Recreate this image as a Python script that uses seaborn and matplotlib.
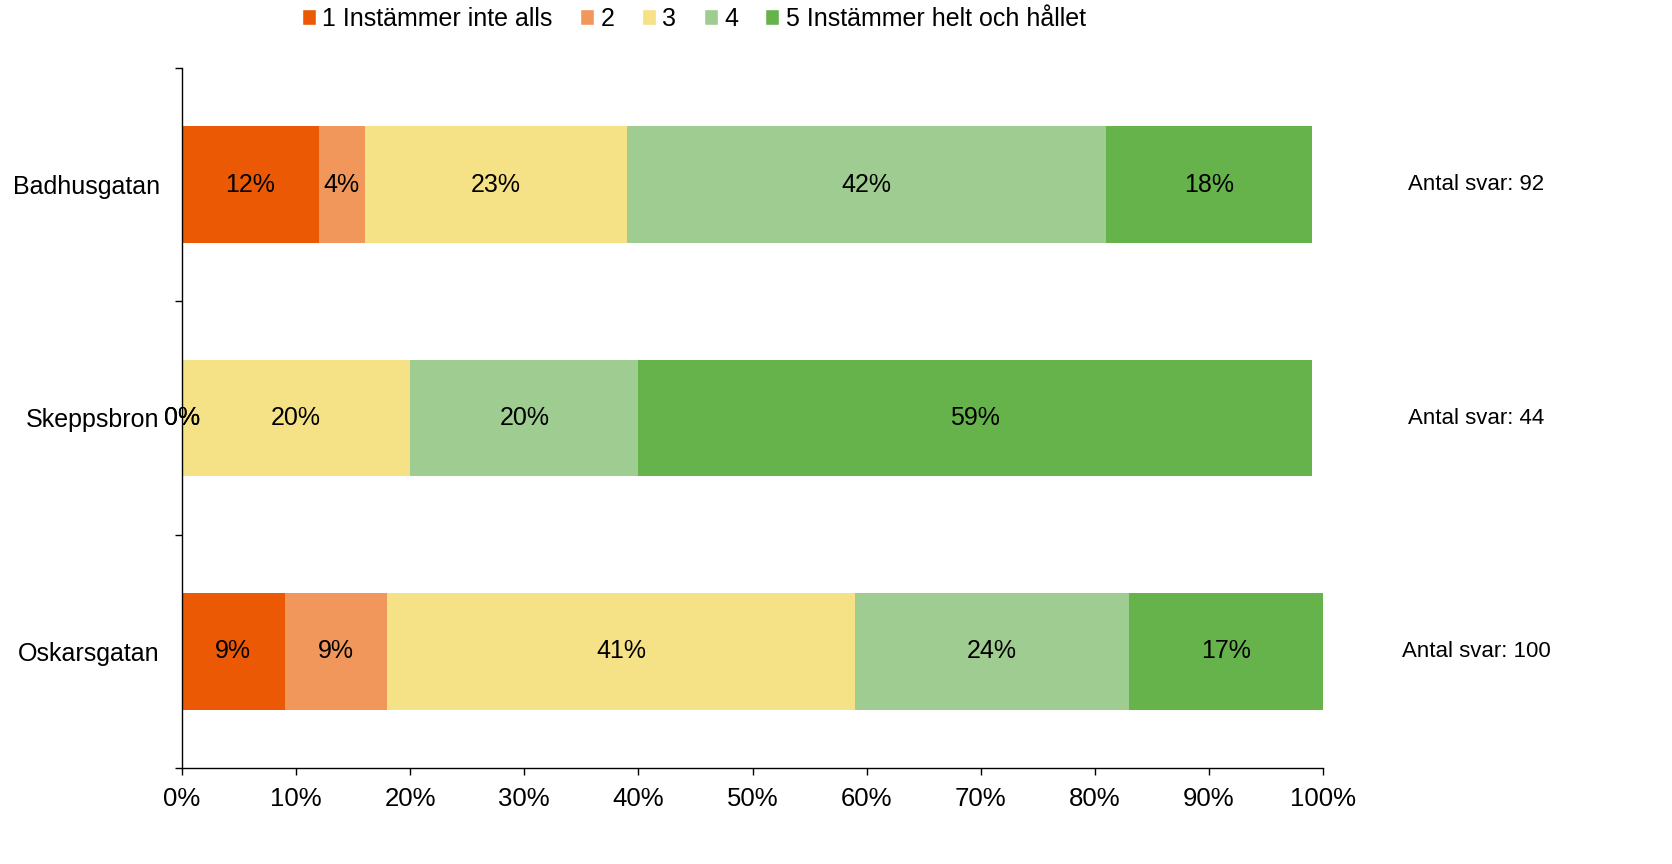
import matplotlib.pyplot as plt
import seaborn as sns
import pandas as pd
import numpy as np
from matplotlib.patches import Patch

# --- Données ---
stations = ["Badhusgatan", "Skeppsbron", "Oskarsgatan"]
answers = ["1 Instämmer inte alls", "2", "3", "4", "5 Instämmer helt och hållet"]
svar_1 = [12, 0, 9]
svar_2 = [4, 0, 9]
svar_3 = [23, 20, 41]
svar_4 = [42, 20, 24]
svar_5 = [18, 59, 17]
antal_svar = [92, 44, 100]
colors = ["#EB5905", "#F2975C", "#F5E186", "#9FCC90", "#66B34C"]

df = pd.DataFrame({"station": stations, answers[0]: svar_1, answers[1]: svar_2,
                   answers[2]: svar_3, answers[3]: svar_4, answers[4]: svar_5})
cum = df[answers].cumsum(axis=1)

sns.set_theme(style="white")
plt.rcParams["font.family"] = ["Liberation Sans", "DejaVu Sans"]
plt.rcParams["text.color"] = "black"
plt.rcParams["xtick.labelcolor"] = "black"
plt.rcParams["ytick.labelcolor"] = "black"

fig = plt.figure(figsize=(16.72, 8.64), dpi=100)
ax = fig.add_axes([182 / 1672, 1 - 768 / 864, (1323 - 182) / 1672, 700 / 864])

# stacked bars: draw cumulative totals from largest to smallest
for ans, c in reversed(list(zip(answers, colors))):
    sns.barplot(x=cum[ans], y=df["station"], color=c, orient="h", width=0.5,
                saturation=1, ax=ax, linewidth=0)

for i in range(len(stations)):
    for ans in answers:
        val = df.loc[i, ans]
        x = cum.loc[i, ans] - val / 2
        ax.text(x, i, f"{val}%", ha="center", va="center", fontsize=18, color="black")
    ax.text(113.4, i, f"Antal svar: {antal_svar[i]}", ha="center", va="center",
            fontsize=16, color="black", clip_on=False)

ax.set_xlim(0, 100)
ax.set_ylim(2.5, -0.5)
ax.set_xticks(np.arange(0, 101, 10))
ax.set_xticklabels([f"{v}%" for v in range(0, 101, 10)])
ax.set_yticks([-0.5, 0.5, 1.5, 2.5])
ax.set_yticklabels([])
ax.set_yticks(range(len(stations)), minor=True)
ax.set_yticklabels(stations, minor=True)
ax.set_xlabel("")
ax.set_ylabel("")

for s in ["top", "right"]:
    ax.spines[s].set_visible(False)
for s in ["left", "bottom"]:
    ax.spines[s].set_color("black")
    ax.spines[s].set_linewidth(1)
ax.tick_params(axis="x", which="major", direction="out", length=5, width=1,
               color="black", labelsize=18.5, labelcolor="black", pad=9, bottom=True)
ax.tick_params(axis="y", which="major", direction="out", length=5, width=1,
               color="black", left=True)
ax.tick_params(axis="y", which="minor", length=0, labelsize=18, labelcolor="black", pad=16)

handles = [Patch(facecolor=c, label=a) for a, c in zip(answers, colors)]
fig.legend(handles=handles, loc="upper center", bbox_to_anchor=(0.415, 1.018),
           ncol=5, frameon=False, fontsize=18, handlelength=0.56, handleheight=0.56,
           handletextpad=0.25, columnspacing=1.1)

plt.savefig("out.png", dpi=100)
